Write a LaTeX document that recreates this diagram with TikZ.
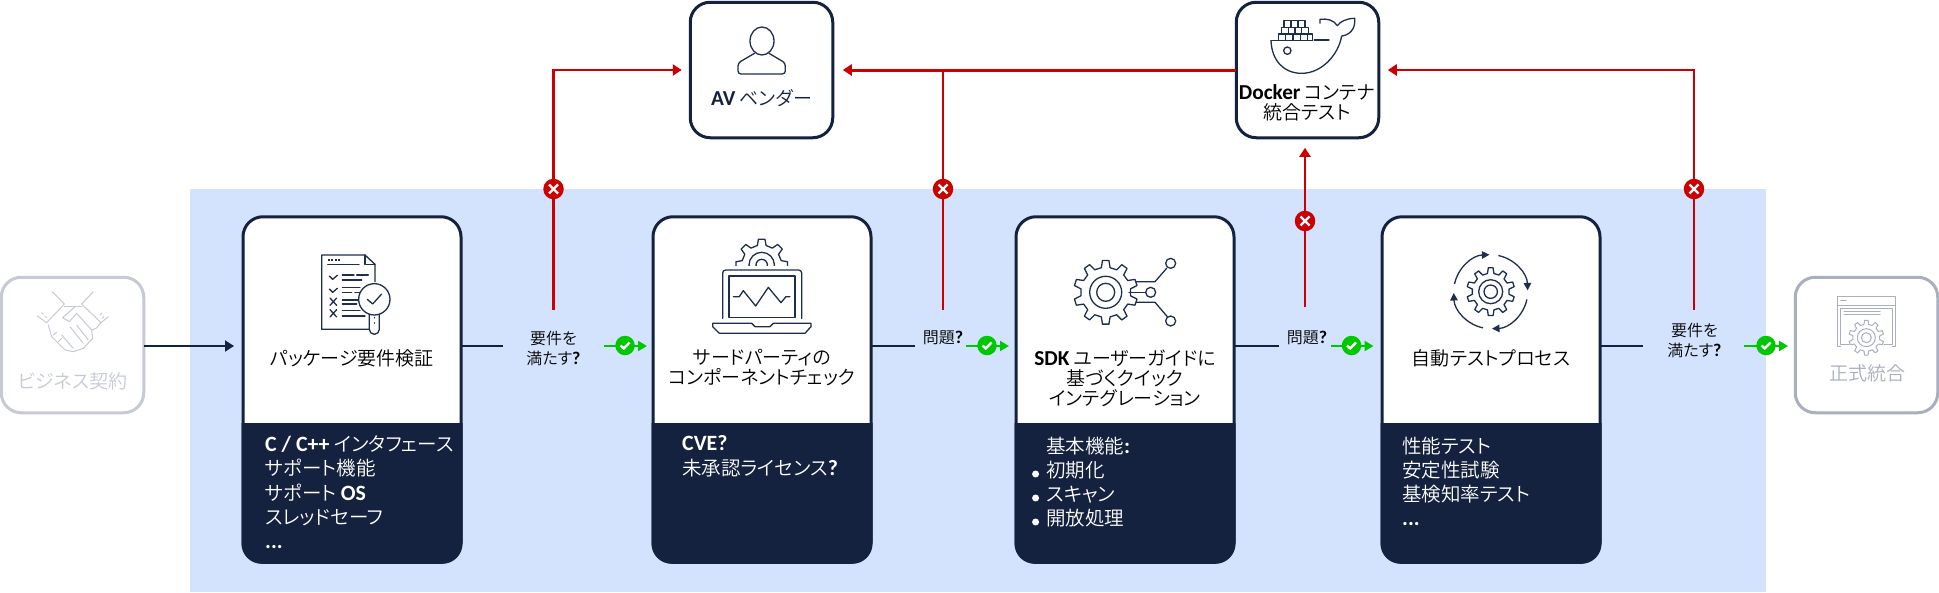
\documentclass[tikz,border=0pt]{standalone}
\usepackage{fontspec}
\setmainfont{Noto Sans CJK JP DemiLight}[RawFeature={+palt}]
\newfontfamily\latf{Carlito}
\usetikzlibrary{arrows.meta}
\definecolor{navy}{HTML}{14213F}
\definecolor{iconc}{HTML}{1F2D4F}
\definecolor{panelc}{HTML}{D3E3FD}
\definecolor{redc}{HTML}{CC0000}
\definecolor{greenc}{HTML}{00C800}
\definecolor{greyl}{HTML}{C6CAD5}
\definecolor{greyr}{HTML}{A9AFBF}
\newcommand{\Lt}[1]{{\latf\fontsize{1.12em}{1em}\selectfont\bfseries #1}}
\tikzset{
 cardbox/.style={draw=navy,line width=3pt,fill=white,rounded corners=20pt,minimum width=218pt,minimum height=345.5pt,outer sep=0pt,inner sep=0pt},
 topbox/.style={draw=navy,line width=3pt,fill=white,rounded corners=20pt,minimum width=142.5pt,minimum height=135.5pt,outer sep=0pt,inner sep=0pt},
 sidebox/.style={line width=3pt,fill=white,rounded corners=20pt,minimum width=142.5pt,minimum height=135.5pt,outer sep=0pt,inner sep=0pt},
 title/.style={font=\fontsize{19}{20}\selectfont,align=center,text=black,inner sep=0pt},
 body/.style={font=\fontsize{19.5}{24.3}\selectfont,align=left,text=white,inner sep=0pt,anchor=north west},
 qlabel/.style={font=\fontsize{16}{20}\selectfont,align=center,text=black,inner sep=0pt},
 navyline/.style={draw=navy,line width=2pt},
 navyarrow/.style={navyline,-{Triangle[length=9pt,width=11pt]}},
 redline/.style={draw=redc,line width=2.3pt},
 redarrow/.style={redline,-{Triangle[length=9pt,width=11pt]}},
 greenarrow/.style={draw=greenc,line width=2pt,-{Triangle[length=9pt,width=10pt]}},
 okdot/.style={circle,fill=greenc,minimum size=19.5pt,inner sep=0pt},
 nodot/.style={circle,fill=redc,minimum size=20.5pt,inner sep=0pt},
 markline/.style={draw=white,line width=2.4pt},
 icon/.style={draw=iconc,line width=1.3pt,line join=round,line cap=round},
 iconlt/.style={draw=greyl,line width=1pt,line join=round,line cap=round},
 iconrt/.style={draw=greyr,line width=1pt,line join=round,line cap=round},
}
% cx,cy,n,R,r,offset,style
\newcommand{\cog}[7]{%
 \pgfmathsetmacro\st{360/#3}%
 \draw[#7,shift={(#1,#2)},x=1pt,y=1pt] ({#6-.28*\st}:#5)
  \foreach \k in {1,...,#3}{
   -- ({#6+(\k-1)*\st-.28*\st}:#5) -- ({#6+(\k-1)*\st-.16*\st}:#4)
   -- ({#6+(\k-1)*\st+.16*\st}:#4) -- ({#6+(\k-1)*\st+.28*\st}:#5)
  } -- cycle;%
}
\newcommand{\okm}[2]{%
 \node[okdot] (#1) at (#2) {};
 \draw[markline] ([shift={(-4.5,0)}]#1.center) -- ([shift={(-1.3,3)}]#1.center) -- ([shift={(4.5,-3)}]#1.center);
}
\newcommand{\nom}[2]{%
 \node[nodot] (#1) at (#2) {};
 \draw[markline] ([shift={(-4.5,-4.5)}]#1.center) -- ([shift={(4.5,4.5)}]#1.center);
 \draw[markline] ([shift={(-4.5,4.5)}]#1.center) -- ([shift={(4.5,-4.5)}]#1.center);
}
\newcommand{\under}[1]{%
 \filldraw[navy,line width=3pt] (#1.west |- dv) [rounded corners=18.5pt] -- (#1.south west) -- (#1.south east) [sharp corners] -- (#1.east |- dv) -- cycle;
}
\begin{document}
\begin{tikzpicture}[x=1pt,y=-1pt]
\useasboundingbox (0,0) rectangle (1939,592);
\fill[white] (0,0) rectangle (1939,592);
\fill[panelc] (190,189) rectangle (1766,592);
\coordinate (rw) at (0,346);
\coordinate (dv) at (0,424.5);
% boxes
\node[sidebox,draw=greyl] (bz) at (72.5,345) {};
\node[sidebox,draw=greyr] (fi) at (1866.5,345) {};
\node[topbox] (av) at (761.5,70) {};
\node[topbox] (dk) at (1307.5,70) {};
\node[cardbox] (c1) at (352,389.5) {};
\node[cardbox] (c2) at (762,389.5) {};
\node[cardbox] (c3) at (1125,389.5) {};
\node[cardbox] (c4) at (1491,389.5) {};
\under{c1}\under{c2}\under{c3}\under{c4}
% box texts
\node[font=\fontsize{19}{20}\selectfont,text=greyl,inner sep=0pt] (tbz) at (72.5,381) {ビジネス契約};
\node[font=\fontsize{19}{20}\selectfont,text=greyr,inner sep=0pt] (tfi) at (1867,373) {正式統合};
\node[title,text=navy] (tav) at (761.5,98) {\Lt{AV} ベンダー};
\node[title] (tdk) at (1307,103) {\Lt{Docker} コンテナ\\統合テスト};
\node[title] (t1) at (352,358) {パッケージ要件検証};
\node[title] (t2) at (762,368) {サードパーティの\\コンポーネントチェック};
\node[title] (t3) at (1125,378) {\Lt{SDK} ユーザーガイドに\\基づくクイック\\インテグレーション};
\node[title] (t4) at (1491,358) {自動テストプロセス};
\node[body] (b1) at (265,435.5) {\Lt{C / C++} インタフェース\\サポート機能\\サポート \Lt{OS}\\スレッドセーフ\\\Lt{...}};
\node[body] (b2) at (682,435.5) {\Lt{CVE?}\\未承認ライセンス\Lt{?}};
\node[body] (b3a) at (1046,436.5) {基本機能\Lt{:}\\初期化\\スキャン\\開放処理};
\node[body] (b4) at (1402,436.5) {性能テスト\\安定性試験\\基検知率テスト\\\Lt{...}};
\foreach \y [count=\i] in {474,498,522}{\node[circle,fill=white,minimum size=7pt,inner sep=0pt] (bl\i) at (1035.6,\y) {};}
% labels
\node[qlabel] (q1) at (553.5,348) {要件を\\満たす\Lt{?}};
\node[qlabel] (q2) at (943,338) {問題\Lt{?}};
\node[qlabel] (q3) at (1307,338) {問題\Lt{?}};
\node[qlabel] (q4) at (1694.5,340) {要件を\\満たす\Lt{?}};
% connector ends
\coordinate (e1) at (503,346);\coordinate (e2) at (914.5,346);\coordinate (e3) at (1279,346);\coordinate (e4) at (1643,346);
\coordinate (r1) at (553.5,310);\coordinate (r2) at (943,310);\coordinate (r3) at (1305,307);\coordinate (r4) at (1694,310);
\coordinate (g1) at (604,346);\coordinate (g2) at (966,346);\coordinate (g3) at (1330.5,346);\coordinate (g4) at (1744,346);
\coordinate (h1) at (647,346);\coordinate (h2) at (1009,346);\coordinate (h3) at (1373.5,346);\coordinate (h4) at (1788,346);
% navy connectors
\draw[navyarrow,shorten >=9pt] (bz.east |- rw) -- (c1.west |- rw);
\foreach \n in {1,2,3,4}{\draw[navyline] (c\n.east |- rw) -- (e\n);}
% red connectors
\draw[redarrow,shorten >=8.5pt] (r1) |- (av.west);
\draw[redarrow,line width=3pt,shorten >=10pt] (dk.west) -- (av.east);
\draw[redline] (r2) -- (r2 |- av.east);
\draw[redarrow,shorten >=10pt] (r3) -- (r3 |- dk.south);
\draw[redarrow,shorten >=9pt] (r4) |- (dk.east);
\nom{n1}{553.5,189}\nom{n2}{943,189}\nom{n3}{1305,221}\nom{n4}{1694,189}
% green connectors
\foreach \n in {1,2,3,4}{\draw[greenarrow] (g\n) -- (h\n);}
\okm{k1}{625,345.5}\okm{k2}{987,345.5}\okm{k3}{1351.5,345.5}\okm{k4}{1766,345.5}
% icon 1: document and magnifier
\begin{scope}[shift={(300,240)},x=.3333pt,y=-.3333pt]
 \draw[icon] (225,125) -- (225,73) -- (195,45) -- (65,45) -- (65,268) -- (207,268);
 \draw[icon] (195,45) -- (195,73) -- (225,73);
 \draw[icon,dash pattern=on 2pt off 1.6pt,line cap=butt] (83,60) -- (120,60);
 \draw[icon] (83,73) -- (177,73);
 \draw[icon] (88,108) -- (98,118) -- (112,106);
 \draw[icon] (88,147) -- (98,157) -- (112,145);
 \draw[icon] (90,174) -- (110,196) (110,174) -- (90,196);
 \draw[icon] (90,209) -- (110,231) (110,209) -- (90,231);
 \draw[icon] (127,105) -- (162,105) (170,105) -- (205,105) (127,120) -- (185,120) (127,143) -- (180,143) (127,157) -- (155,157) (165,157) -- (180,157) (127,180) -- (175,180) (127,192) -- (170,192) (127,212) -- (180,212) (127,228) -- (195,228);
 \draw[icon,fill=white] (208,220) -- (208,268) arc[start angle=180,end angle=360,x radius=15,y radius=-15] -- (238,220);
 \draw[icon,fill=white] (223,178) circle (47);
 \draw[icon] (202,178) -- (218,192) -- (245,162);
 \draw[icon] (223,232) -- (223,234) (223,248) -- (223,250);
\end{scope}
% icon 2: laptop and cog
\begin{scope}
 \clip (720,230) rectangle (805,265.5);
 \cog{761.7}{265}{8}{26}{20}{0}{icon}
 \draw[icon] (761.7,265) circle (12.7) (761.7,265) circle (5.7);
\end{scope}
\begin{scope}[shift={(700,230)},x=.3333pt,y=-.3333pt]
 \draw[icon,rounded corners=3pt] (68,265) -- (68,120) -- (305,120) -- (305,265);
 \draw[icon] (87,138) rectangle (285,262);
 \draw[icon] (100,200) -- (118,200) -- (130,182) -- (167,228) -- (205,172) -- (243,218) -- (258,200) -- (270,200);
 \draw[icon] (38,280) -- (155,280) -- (165,290) -- (210,290) -- (220,280) -- (333,280) -- (333,290) -- (315,310) -- (58,310) -- (38,290) -- cycle;
\end{scope}
% icon 3: cog with branches
\cog{1105.7}{292.3}{10}{32}{25}{18}{icon}
\draw[icon] (1105.7,292.3) circle (16) (1105.7,292.3) circle (9);
\begin{scope}[shift={(1050,250)},x=.3333pt,y=-.3333pt]
 \draw[icon] (258,95) -- (315,95) -- (350,55);
 \draw[icon] (237,127) -- (287,127);
 \draw[icon] (258,157) -- (315,157) -- (352,200);
 \draw[icon] (362,40) circle (15) (302,127) circle (15) (362,213) circle (15);
\end{scope}
% icon 4: cog with cycle arrows
\cog{1490.7}{291.7}{10}{24}{18.5}{18}{icon}
\draw[icon] (1490.7,291.7) circle (12) (1490.7,291.7) circle (6.7);
\begin{scope}[shift={(1490.7,291.7)},x=1pt,y=1pt]
 \draw[icon,line cap=butt,-{Triangle[length=7.5pt,width=7.5pt]}] (168:37) arc[start angle=168,end angle=92,radius=37];
 \draw[icon,line cap=butt,-{Triangle[length=7.5pt,width=7.5pt]}] (78:37) arc[start angle=78,end angle=2,radius=37];
 \draw[icon,line cap=butt,-{Triangle[length=7.5pt,width=7.5pt]}] (-12:37) arc[start angle=-12,end angle=-88,radius=37];
 \draw[icon,line cap=butt,-{Triangle[length=7.5pt,width=7.5pt]}] (-102:37) arc[start angle=-102,end angle=-178,radius=37];
\end{scope}
% person icon
\draw[icon] (762,41) ellipse (12 and 14);
\draw[icon,rounded corners=3pt] (754.5,53.3) -- (738,63) -- (738,74) -- (785.3,74) -- (785.3,63) -- (769,53.3);
% docker icon
\begin{scope}[shift={(1260,10)},x=.3333pt,y=-.3333pt]
 \foreach \a in {55,77,100,122}{\draw[icon] (\a,72) rectangle ++(20.5,20);}
 \draw[icon] (142,72) rectangle (157,92);
 \foreach \a in {65,85,105,125}{\draw[icon] (\a,52) rectangle ++(20,20);}
 \foreach \a in {72,93,114}{\draw[icon] (\a,32) rectangle ++(21,20);}
 \draw[icon] (33,92) -- (158,92);
 \draw[icon] (163,90) -- (207,90);
 \draw[icon] (33,92) .. controls (35,150) and (70,190) .. (125,190) .. controls (185,190) and (235,135) .. (245,78) .. controls (265,76) and (288,60) .. (284,25) .. controls (260,25) and (240,35) .. (232,47) .. controls (222,30) and (200,25) .. (180,28) -- (180,40);
 \draw[icon] (82,122) circle (11);
\end{scope}
% handshake icon
\begin{scope}[shift={(20,280)},x=.3333pt,y=-.3333pt]
 \draw[iconlt] (97,35) -- (133,72) -- (80,128) -- (52,108);
 \draw[iconlt] (220,35) -- (185,72) -- (243,128) -- (265,110);
 \draw[iconlt] (133,80) -- (185,80);
 \draw[iconlt] (165,80) -- (128,113) -- (148,125) -- (170,100) -- (215,150);
 \draw[iconlt] (243,128) -- (228,145) -- (215,150) -- (218,175) -- (190,205) -- (160,215);
 \draw[iconlt] (85,135) -- (95,170) -- (115,190) -- (135,210) -- (160,215);
 \draw[iconlt] (150,140) -- (190,190) (170,135) -- (205,180) (125,165) -- (160,205);
 \draw[iconlt] (100,165) -- (110,157) (115,185) -- (125,175);
 \draw[iconlt] (65,98) -- (70,103) (75,108) -- (80,113) (245,100) -- (240,105) (252,110) -- (247,115);
\end{scope}
% window and cog icon
\draw[iconrt] (1840.6,346.7) -- (1837.7,346.7) -- (1837.7,296.7) -- (1895.3,296.7) -- (1895.3,346.7) -- (1892.4,346.7);
\draw[iconrt] (1837.7,305) -- (1895.3,305);
\draw[iconrt] (1840.6,344) -- (1840.6,308) -- (1892.4,308) -- (1892.4,344) -- (1884,344);
\draw[iconrt] (1840.6,344) -- (1849,344);
\draw[iconrt] (1840.6,300.7) -- (1846,300.7);
\draw[iconrt] (1844,311) -- (1880,311) (1844,314.3) -- (1880,314.3);
\cog{1866.3}{337.7}{10}{17.5}{13.5}{18}{iconrt,fill=white}
\draw[iconrt] (1866.3,337.7) circle (9) (1866.3,337.7) circle (5);
\end{tikzpicture}
\end{document}
